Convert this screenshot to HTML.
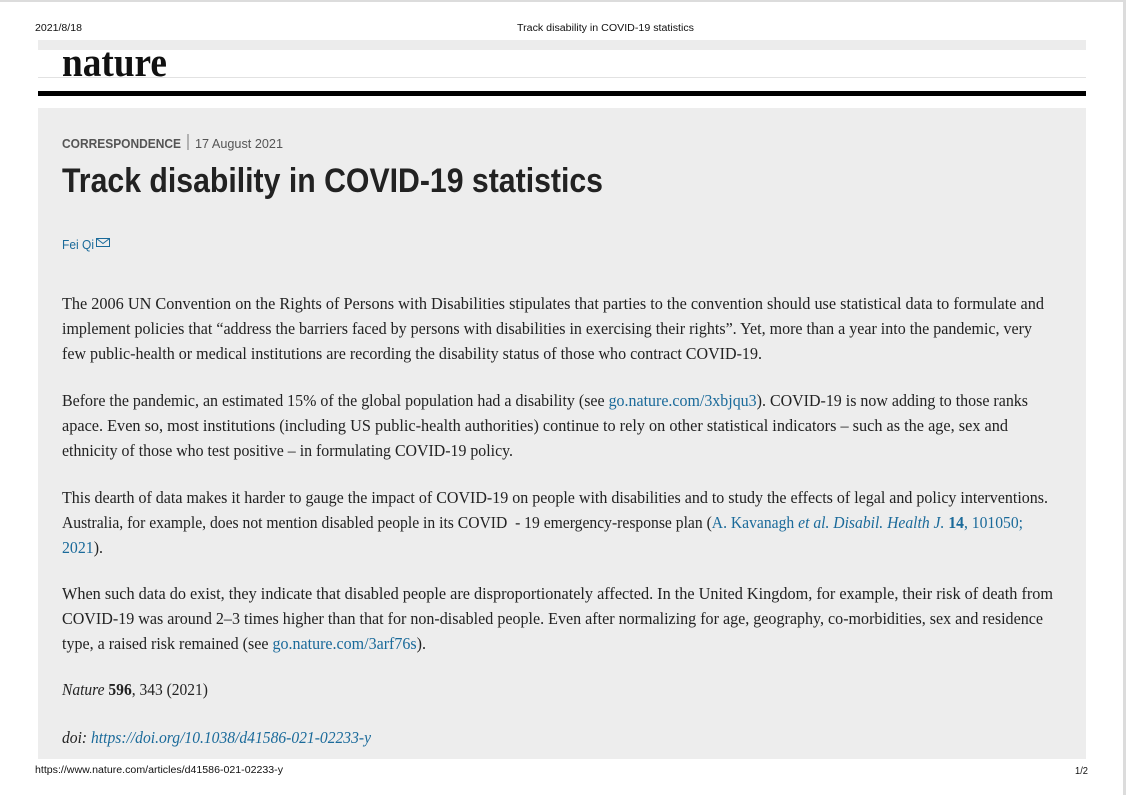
<!DOCTYPE html>
<html>
<head>
<meta charset="utf-8">
<style>
html,body{margin:0;padding:0;background:#fff;}
svg{display:block;}
.hdr{font-family:"Liberation Sans",Arial,sans-serif;font-size:10px;fill:#111;}
.body{font-family:"Liberation Serif",serif;font-size:16.5px;fill:#222;white-space:pre;}
.lnk{fill:#1a6a9a;}
</style>
</head>
<body>
<svg width="1126" height="795" viewBox="0 0 1126 795" xmlns="http://www.w3.org/2000/svg">
  <rect x="0" y="0" width="1126" height="795" fill="#ffffff"/>
  <rect x="0" y="0" width="1126" height="2" fill="#dcdcdc"/>
  <rect x="1123" y="0" width="3" height="795" fill="#dcdcdc"/>

  <!-- header -->
  <text class="hdr" x="35" y="31" textLength="47" lengthAdjust="spacingAndGlyphs">2021/8/18</text>
  <text class="hdr" x="517" y="31" textLength="177" lengthAdjust="spacingAndGlyphs">Track disability in COVID-19 statistics</text>

  <!-- masthead -->
  <rect x="38" y="40" width="1048" height="10" fill="#ececec"/>
  <rect x="38" y="77" width="1048" height="1" fill="#e2e2e2"/>
  <text x="62" y="76" font-family="'Liberation Serif',serif" font-weight="bold" font-size="41" fill="#111" textLength="105" lengthAdjust="spacingAndGlyphs">nature</text>
  <rect x="38" y="91" width="1048" height="5" fill="#000"/>

  <!-- gray panel -->
  <rect x="38" y="108" width="1048" height="651" fill="#ededed"/>

  <text x="62" y="148" font-family="'Liberation Sans',sans-serif" font-weight="bold" font-size="13" fill="#555" textLength="119" lengthAdjust="spacingAndGlyphs">CORRESPONDENCE</text>
  <rect x="187.5" y="134" width="1" height="16" fill="#777"/>
  <text x="195" y="148" font-family="'Liberation Sans',sans-serif" font-size="13" fill="#555" textLength="88" lengthAdjust="spacingAndGlyphs">17 August 2021</text>

  <text x="62" y="192" font-family="'Liberation Sans',sans-serif" font-weight="bold" font-size="34" fill="#222" textLength="541" lengthAdjust="spacingAndGlyphs">Track disability in COVID-19 statistics</text>

  <text x="62" y="249" font-family="'Liberation Sans',sans-serif" font-size="12.5" fill="#1a6a9a" textLength="32" lengthAdjust="spacingAndGlyphs">Fei Qi</text>
  <g fill="none" stroke="#1a6a9a" stroke-width="1">
    <rect x="96.5" y="238.5" width="13" height="8"/>
    <polyline points="96.5,238.5 103,243.5 109.5,238.5"/>
  </g>

  <!-- paragraph 1 -->
  <text class="body" x="62" y="309" textLength="982" lengthAdjust="spacingAndGlyphs">The 2006 UN Convention on the Rights of Persons with Disabilities stipulates that parties to the convention should use statistical data to formulate and</text>
  <text class="body" x="62" y="334" textLength="970" lengthAdjust="spacingAndGlyphs">implement policies that “address the barriers faced by persons with disabilities in exercising their rights”. Yet, more than a year into the pandemic, very</text>
  <text class="body" x="62" y="359" textLength="700" lengthAdjust="spacingAndGlyphs">few public-health or medical institutions are recording the disability status of those who contract COVID-19.</text>

  <!-- paragraph 2 -->
  <text class="body" x="62" y="406" textLength="966" lengthAdjust="spacingAndGlyphs">Before the pandemic, an estimated 15% of the global population had a disability (see <tspan class="lnk">go.nature.com/3xbjqu3</tspan>). COVID-19 is now adding to those ranks</text>
  <text class="body" x="62" y="431" textLength="946" lengthAdjust="spacingAndGlyphs">apace. Even so, most institutions (including US public-health authorities) continue to rely on other statistical indicators – such as the age, sex and</text>
  <text class="body" x="62" y="456" textLength="451" lengthAdjust="spacingAndGlyphs">ethnicity of those who test positive – in formulating COVID-19 policy.</text>

  <!-- paragraph 3 -->
  <text class="body" x="62" y="503" textLength="986" lengthAdjust="spacingAndGlyphs">This dearth of data makes it harder to gauge the impact of COVID-19 on people with disabilities and to study the effects of legal and policy interventions.</text>
  <text class="body" x="62" y="528" textLength="961" lengthAdjust="spacingAndGlyphs">Australia, for example, does not mention disabled people in its COVID  - 19 emergency-response plan (<tspan class="lnk">A. Kavanagh </tspan><tspan class="lnk" font-style="italic">et al. Disabil. Health J.</tspan><tspan class="lnk" font-weight="bold"> 14</tspan><tspan class="lnk">, 101050;</tspan></text>
  <text class="body" x="62" y="553" textLength="41" lengthAdjust="spacingAndGlyphs"><tspan class="lnk">2021</tspan>).</text>

  <!-- paragraph 4 -->
  <text class="body" x="62" y="599" textLength="991" lengthAdjust="spacingAndGlyphs">When such data do exist, they indicate that disabled people are disproportionately affected. In the United Kingdom, for example, their risk of death from</text>
  <text class="body" x="62" y="624" textLength="981" lengthAdjust="spacingAndGlyphs">COVID-19 was around 2–3 times higher than that for non-disabled people. Even after normalizing for age, geography, co-morbidities, sex and residence</text>
  <text class="body" x="62" y="649" textLength="364" lengthAdjust="spacingAndGlyphs">type, a raised risk remained (see <tspan class="lnk">go.nature.com/3arf76s</tspan>).</text>

  <text class="body" x="62" y="695" textLength="146" lengthAdjust="spacingAndGlyphs"><tspan font-style="italic">Nature</tspan> <tspan font-weight="bold">596</tspan>, 343 (2021)</text>

  <text class="body" x="62" y="743" textLength="309" lengthAdjust="spacingAndGlyphs" font-style="italic">doi: <tspan class="lnk">https://doi.org/10.1038/d41586-021-02233-y</tspan></text>

  <!-- footer -->
  <text class="hdr" x="35" y="773" textLength="248" lengthAdjust="spacingAndGlyphs">https://www.nature.com/articles/d41586-021-02233-y</text>
  <text class="hdr" x="1075" y="774" textLength="13" lengthAdjust="spacingAndGlyphs">1/2</text>
</svg>
</body>
</html>
